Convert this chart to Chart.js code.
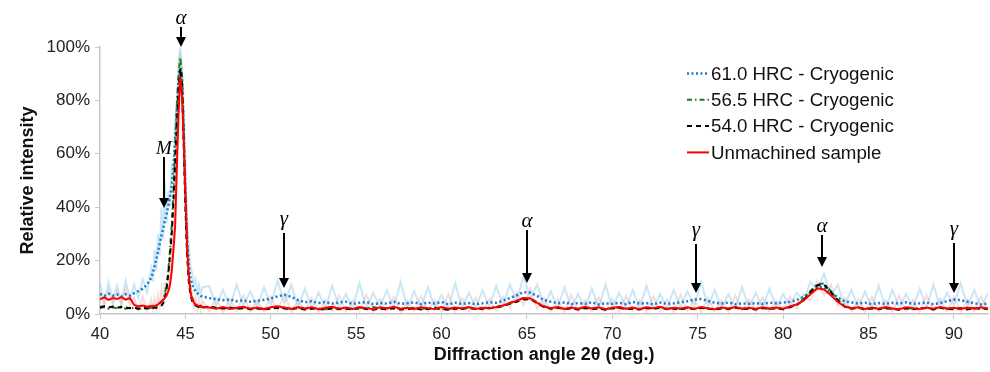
<!DOCTYPE html>
<html>
<head>
<meta charset="utf-8">
<title>XRD patterns</title>
<script src="https://cdn.jsdelivr.net/npm/chart.js@4.4.0/dist/chart.umd.min.js"></script>
<style>
body{margin:0;background:#fff;}
</style>
</head>
<body>
<canvas id="xrd" width="990" height="372"></canvas>
<script>
// diffraction angle 2theta (deg.), finer steps across the main alpha peak
var angles=[40.0,40.25,40.5,40.75,41.0,41.25,41.5,41.75,42.0,42.25,42.5,42.75,43.0,
  43.1,43.2,43.3,43.4,43.5,43.6,43.7,43.8,43.9,44.0,
  44.1,44.2,44.3,44.4,44.5,44.6,44.7,44.8,44.9,45.0,
  45.1,45.2,45.3,45.4,45.5,45.6,45.7,45.8,45.9,46.0,
  46.4,46.8,47.2,47.6,48.0,48.4,48.8,49.2,49.6,50.0,
  50.4,50.8,51.2,51.6,52.0,52.4,52.8,53.2,53.6,54.0,
  54.4,54.8,55.2,55.6,56.0,56.4,56.8,57.2,57.6,58.0,
  58.4,58.8,59.2,59.6,60.0,60.4,60.8,61.2,61.6,62.0,
  62.4,62.8,63.2,63.6,64.0,64.4,64.8,65.2,65.6,66.0,
  66.4,66.8,67.2,67.6,68.0,68.4,68.8,69.2,69.6,70.0,
  70.4,70.8,71.2,71.6,72.0,72.4,72.8,73.2,73.6,74.0,
  74.4,74.8,75.2,75.6,76.0,76.4,76.8,77.2,77.6,78.0,
  78.4,78.8,79.2,79.6,80.0,80.4,80.8,81.2,81.6,82.0,
  82.4,82.8,83.2,83.6,84.0,84.4,84.8,85.2,85.6,86.0,
  86.4,86.8,87.2,87.6,88.0,88.4,88.8,89.2,89.6,90.0,
  90.4,90.8,91.2,91.6,92.0];

// smoothed relative intensity (%)
var hrc610=[7.5,6.8,7.6,6.9,7.3,6.6,7.4,6.9,7.8,8.6,9.5,11.0,13.5,
  15.5,18.0,20.5,23.5,26.5,29.5,32.0,35.0,37.5,40.5,
  44.0,48.0,55.0,65.0,76.0,86.0,92.0,88.0,70.0,45.0,
  28.0,18.0,13.5,11.0,9.5,8.5,7.8,7.2,6.8,6.5,
  6.0,5.6,5.2,5.5,4.8,5.1,4.6,4.9,5.3,5.8,
  6.6,7.2,6.4,5.2,4.4,4.8,4.1,4.5,3.9,4.3,
  4.6,3.8,4.2,4.5,3.7,4.1,3.9,4.6,3.8,4.0,
  4.4,3.7,4.3,3.9,4.5,3.6,4.2,3.8,4.1,3.7,
  4.0,4.4,4.2,5.0,6.0,7.0,8.2,8.0,6.8,5.2,
  4.6,4.0,4.3,3.7,4.1,3.8,4.4,3.6,4.0,3.8,
  4.2,3.7,4.5,3.9,4.1,3.6,4.3,3.8,4.0,4.4,
  4.8,5.4,5.6,4.9,4.2,3.9,4.3,3.7,4.0,3.8,
  4.1,3.8,4.2,4.0,4.3,4.6,5.2,6.4,8.0,10.2,
  10.0,8.0,6.2,4.8,4.3,3.9,4.2,3.7,4.1,3.8,
  4.2,3.9,4.4,3.8,4.0,4.3,3.7,4.1,4.8,5.4,
  5.2,4.6,4.0,3.6,3.9];
var hrc565=[2.2,2.6,2.0,2.5,2.1,2.4,2.0,2.3,2.1,1.9,2.2,2.0,2.3,
  2.4,2.6,2.9,3.3,3.8,4.5,5.5,7.5,11.0,16.0,
  24.0,33.0,46.0,62.0,78.0,90.0,96.0,90.0,70.0,45.0,
  26.0,15.0,9.0,6.0,4.5,3.6,3.1,2.8,2.6,2.5,
  2.6,2.3,2.0,2.4,2.1,2.5,1.9,2.2,2.0,2.3,
  2.5,2.2,2.0,2.4,1.9,2.3,2.1,1.8,2.2,2.0,
  2.3,1.9,2.4,2.1,2.6,2.0,2.2,2.4,1.9,2.1,
  2.3,1.9,2.1,2.4,2.0,1.8,2.2,2.1,2.4,2.0,
  2.2,2.4,2.6,3.2,4.2,5.0,6.0,5.9,4.4,2.9,
  2.2,2.5,2.0,2.3,1.9,2.4,2.1,2.2,1.8,2.3,
  2.4,2.0,2.2,1.9,2.4,2.1,2.5,2.0,2.2,1.9,
  2.3,2.0,2.4,2.1,1.9,2.3,2.0,2.5,2.0,2.2,
  1.9,2.3,2.0,2.2,2.0,2.7,3.6,5.6,8.6,11.2,
  11.4,8.6,5.4,3.0,2.2,2.4,1.9,2.2,2.0,2.3,
  2.0,1.8,2.3,2.0,2.1,2.3,1.9,2.4,2.0,2.1,
  2.2,1.9,2.3,2.0,2.1];
var hrc540=[2.6,2.9,2.4,2.8,2.3,2.7,2.5,2.2,2.4,2.0,2.3,2.1,2.4,
  2.2,2.5,2.3,2.6,2.8,3.2,4.0,6.0,9.5,15.0,
  22.0,30.0,42.0,56.0,70.0,84.0,92.0,86.0,64.0,40.0,
  22.0,12.0,7.0,4.8,3.8,3.2,2.9,2.6,2.8,2.4,
  2.8,2.3,2.1,2.4,1.9,2.2,1.8,2.1,1.7,2.0,
  2.3,2.1,1.8,2.2,1.7,2.0,1.9,1.6,2.1,1.8,
  2.0,1.7,2.2,1.9,1.6,2.0,1.8,2.1,1.7,1.9,
  2.1,1.7,1.9,2.2,1.8,1.6,2.0,1.9,2.3,1.8,
  2.0,2.2,2.4,3.0,3.8,4.6,5.4,5.6,4.0,2.6,
  2.0,2.3,1.8,2.1,1.7,2.2,1.9,2.0,1.6,2.1,
  2.3,1.8,2.0,1.7,2.2,1.9,2.4,1.8,2.0,1.7,
  2.2,1.8,2.3,2.0,1.7,2.1,1.9,2.4,1.8,2.0,
  1.7,2.2,1.9,2.1,1.8,2.5,3.4,5.2,8.0,10.8,
  11.0,8.2,5.0,2.8,2.0,2.3,1.7,2.1,1.8,2.2,
  1.9,1.6,2.1,1.8,2.0,2.2,1.7,2.3,1.9,1.8,
  2.1,1.7,2.2,1.9,2.0];
var unmachined=[5.5,6.2,5.3,6.0,5.6,6.3,5.4,6.0,3.4,2.8,3.2,2.7,3.0,
  3.1,2.9,3.3,3.6,4.2,4.8,5.2,6.0,7.0,8.5,
  11.0,16.0,24.0,33.0,55.0,75.0,89.0,82.0,66.0,45.0,
  25.0,14.0,8.0,5.5,4.2,3.5,3.2,2.9,3.1,2.6,
  2.4,2.0,2.6,1.9,2.3,2.7,2.0,2.4,1.8,2.5,
  2.9,2.4,1.9,2.6,2.1,2.5,1.8,2.3,2.7,2.0,
  2.4,1.9,2.6,2.2,1.8,2.5,2.1,2.7,2.0,2.3,
  1.9,2.5,2.2,1.8,2.6,2.0,2.4,2.1,2.6,1.9,
  2.3,2.1,2.6,3.2,4.0,5.0,6.0,5.8,4.2,2.8,
  2.2,2.6,1.9,2.4,2.0,2.7,2.1,2.5,1.8,2.3,
  2.6,2.0,2.4,1.8,2.5,2.2,2.7,1.9,2.3,2.1,
  2.5,1.9,2.6,2.2,1.8,2.4,2.1,2.6,2.0,2.3,
  1.9,2.5,2.1,2.4,2.0,2.8,3.6,5.0,7.4,9.6,
  9.2,7.0,4.6,2.8,2.2,2.5,1.9,2.4,2.0,2.6,
  2.1,1.8,2.5,2.2,1.9,2.4,2.0,2.6,2.1,2.3,
  1.9,2.4,2.0,2.5,2.1];

// raw counts behind the smoothed curves (%)
var hrc610Raw=[11.5,4.5,12.0,5.0,10.5,4.2,12.5,5.5,11.0,6.0,13.0,8.0,17.0,
  12.0,24.0,16.0,30.0,22.0,40.0,28.0,50.0,34.0,46.0,
  40.0,56.0,50.0,72.0,80.0,94.0,100,90.0,78.0,56.0,
  36.0,26.0,18.0,15.0,11.0,13.0,8.0,11.0,7.0,10.0,
  10.5,3.0,9.0,2.6,11.0,3.2,8.5,2.8,10.0,3.4,
  12.5,4.0,11.0,2.6,9.5,2.4,8.0,2.2,10.5,2.5,
  7.5,2.3,11.5,2.2,8.0,2.6,9.0,2.1,12.0,2.4,
  8.5,2.2,10.0,2.5,7.0,2.1,11.5,2.4,8.0,2.3,
  9.0,2.5,10.5,3.2,11.0,5.0,14.0,6.0,11.0,3.0,
  8.5,2.2,10.0,2.4,7.5,2.1,9.5,2.3,11.0,2.2,
  8.0,2.5,9.0,2.1,10.5,2.3,7.5,2.2,9.0,2.6,
  8.5,3.0,12.0,2.8,9.0,2.3,7.5,2.2,10.0,2.4,
  8.0,2.2,9.5,2.4,7.5,3.0,8.0,5.0,12.0,9.0,
  15.0,6.5,11.0,3.2,9.0,2.3,8.5,2.4,10.5,2.2,
  9.0,2.3,7.5,2.2,9.5,2.4,11.0,2.5,8.0,3.5,
  11.5,2.8,9.0,2.3,8.0];
var unmachinedRaw=[8.0,3.0,9.0,3.5,8.5,3.2,9.5,3.0,6.0,1.2,6.5,1.0,5.5,
  1.5,5.5,2.0,7.0,3.0,9.0,4.0,12.0,6.0,16.0,
  12.0,24.0,30.0,46.0,60.0,85.0,98.0,92.0,66.0,48.0,
  28.0,18.0,10.0,8.0,3.0,6.0,1.5,5.5,1.2,5.0,
  1.0,6.0,0.8,5.5,1.2,7.0,0.9,5.0,1.1,6.5,
  1.0,7.5,0.8,5.0,1.2,6.0,0.7,5.5,1.0,6.8,
  0.9,5.2,1.1,7.2,0.8,5.6,1.0,6.4,0.7,5.0,
  1.2,6.6,0.9,5.3,1.0,7.4,0.8,5.8,1.1,6.0,
  0.9,5.5,1.3,6.5,2.5,8.0,3.5,9.5,2.0,6.0,
  1.0,5.6,0.8,7.0,1.1,5.2,0.9,6.2,1.0,5.8,
  0.8,6.8,1.2,5.0,0.9,6.6,1.0,5.4,0.8,7.2,
  1.1,5.6,0.9,6.0,1.0,5.2,0.8,6.8,1.2,5.5,
  0.9,6.2,1.0,5.0,1.3,6.5,2.0,7.5,5.0,12.5,
  7.0,11.0,3.0,6.0,1.0,5.6,0.8,6.4,1.1,5.2,
  0.9,6.8,1.0,5.4,0.8,7.0,1.2,5.8,1.0,6.2,
  0.9,5.5,1.1,6.6,1.0];

// phase markers: name, 2theta, arrow tail and tip (% on the intensity axis)
var peakNames=['α','M','γ','α','γ','α','γ'];
var peakAngles=[44.75,43.75,50.8,65.0,74.9,82.3,90.0];
var arrowTail=[107.5,58.8,30.3,31.5,26.2,29.6,26.6];
var arrowTip=[100,39.7,9.7,11.6,7.9,17.6,7.9];

function pts(vals){
  return angles.map(function(a,i){return {x:a,y:vals[i]};});
}

var peakArrows={
  id:'peakArrows',
  afterDatasetsDraw:function(chart){
    var ctx=chart.ctx, xs=chart.scales.x, ys=chart.scales.y;
    ctx.save();
    ctx.strokeStyle='#000';
    ctx.fillStyle='#000';
    for(var i=0;i<peakNames.length;i++){
      var x=Math.round(xs.getPixelForValue(peakAngles[i]));
      var y0=ys.getPixelForValue(arrowTail[i]);
      var y1=ys.getPixelForValue(arrowTip[i]);
      ctx.lineWidth=2;
      ctx.beginPath();ctx.moveTo(x,y0);ctx.lineTo(x,y1-8);ctx.stroke();
      ctx.beginPath();
      ctx.moveTo(x-5,y1-10);ctx.lineTo(x+5,y1-10);ctx.lineTo(x,y1);
      ctx.closePath();ctx.fill();
      ctx.font=(peakNames[i]=='M'?'italic 19px':'italic 21px')+' "Liberation Serif", serif';
      ctx.textAlign='center';
      ctx.textBaseline='alphabetic';
      var m=ctx.measureText(peakNames[i]);
      ctx.fillText(peakNames[i],x,y0-3-Math.max(m.actualBoundingBoxDescent,0));
    }
    ctx.restore();
  }
};

// legend with line samples, drawn in the upper right of the plot
var lineLegend={
  id:'lineLegend',
  afterDraw:function(chart){
    var ctx=chart.ctx, area=chart.chartArea;
    var sets=chart.data.datasets.filter(function(d){return d.inLegend;});
    ctx.save();
    for(var i=0;i<sets.length;i++){
      var d=sets[i];
      var x=area.right-301, y=area.top+26.5+26.3*i;
      ctx.strokeStyle=d.borderColor;
      ctx.lineWidth=d.borderWidth;
      ctx.setLineDash(d.borderDash||[]);
      ctx.beginPath();ctx.moveTo(x,y);ctx.lineTo(x+22,y);ctx.stroke();
      ctx.setLineDash([]);
      ctx.fillStyle='#111';
      ctx.font='18.7px "Liberation Sans", Arial, sans-serif';
      ctx.textAlign='left';
      ctx.textBaseline='middle';
      ctx.fillText(d.label,x+24,y+1);
    }
    ctx.restore();
  }
};

Chart.defaults.font.family='"Liberation Sans", Arial, sans-serif';
Chart.defaults.color='#222';

new Chart(document.getElementById('xrd'),{
  type:'line',
  data:{
    datasets:[
      {label:'61.0 HRC - Cryogenic',data:pts(hrc610),borderColor:'#1e78c8',borderWidth:2.5,borderDash:[2,2.5],order:3,inLegend:true},
      {label:'56.5 HRC - Cryogenic',data:pts(hrc565),borderColor:'#1b7d1b',borderWidth:2,borderDash:[5,3,1.5,3],order:2,inLegend:true},
      {label:'54.0 HRC - Cryogenic',data:pts(hrc540),borderColor:'#000000',borderWidth:2,borderDash:[5,4],order:1,inLegend:true},
      {label:'Unmachined sample',data:pts(unmachined),borderColor:'#ff0000',borderWidth:2,order:0,inLegend:true},
      {label:'61.0 raw',data:pts(hrc610Raw),borderColor:'rgba(120,195,235,0.4)',borderWidth:2,order:4},
      {label:'Unmachined raw',data:pts(unmachinedRaw),borderColor:'rgba(225,130,130,0.28)',borderWidth:2,order:5}
    ].map(function(d){d.pointRadius=0;d.fill=false;d.tension=0;return d;})
  },
  options:{
    responsive:false,
    animation:false,
    layout:{padding:{top:47,right:2,left:0,bottom:0}},
    plugins:{legend:{display:false},tooltip:{enabled:false}},
    scales:{
      x:{
        type:'linear',min:40,max:92,
        ticks:{stepSize:5,includeBounds:false,font:{size:16.5},padding:6,maxRotation:0},
        grid:{drawOnChartArea:false,tickLength:5,color:'#c8c8c8'},
        border:{color:'#c8c8c8',width:1.5},
        title:{display:true,text:'Diffraction angle 2θ (deg.)',color:'#111',font:{size:18,weight:'bold'},padding:{top:0,bottom:6}},
        afterFit:function(s){s.height=58;}
      },
      y:{
        min:0,max:100,
        ticks:{stepSize:20,font:{size:17},padding:5,callback:function(v){return v+'%';}},
        grid:{drawOnChartArea:false,tickLength:5,color:'#c8c8c8'},
        border:{color:'#c8c8c8',width:1.5},
        title:{display:true,text:'Relative intensity',color:'#111',font:{size:18,weight:'bold'},padding:{top:17,bottom:0}},
        afterFit:function(s){s.width=100;}
      }
    }
  },
  plugins:[peakArrows,lineLegend]
});
</script>
</body>
</html>
